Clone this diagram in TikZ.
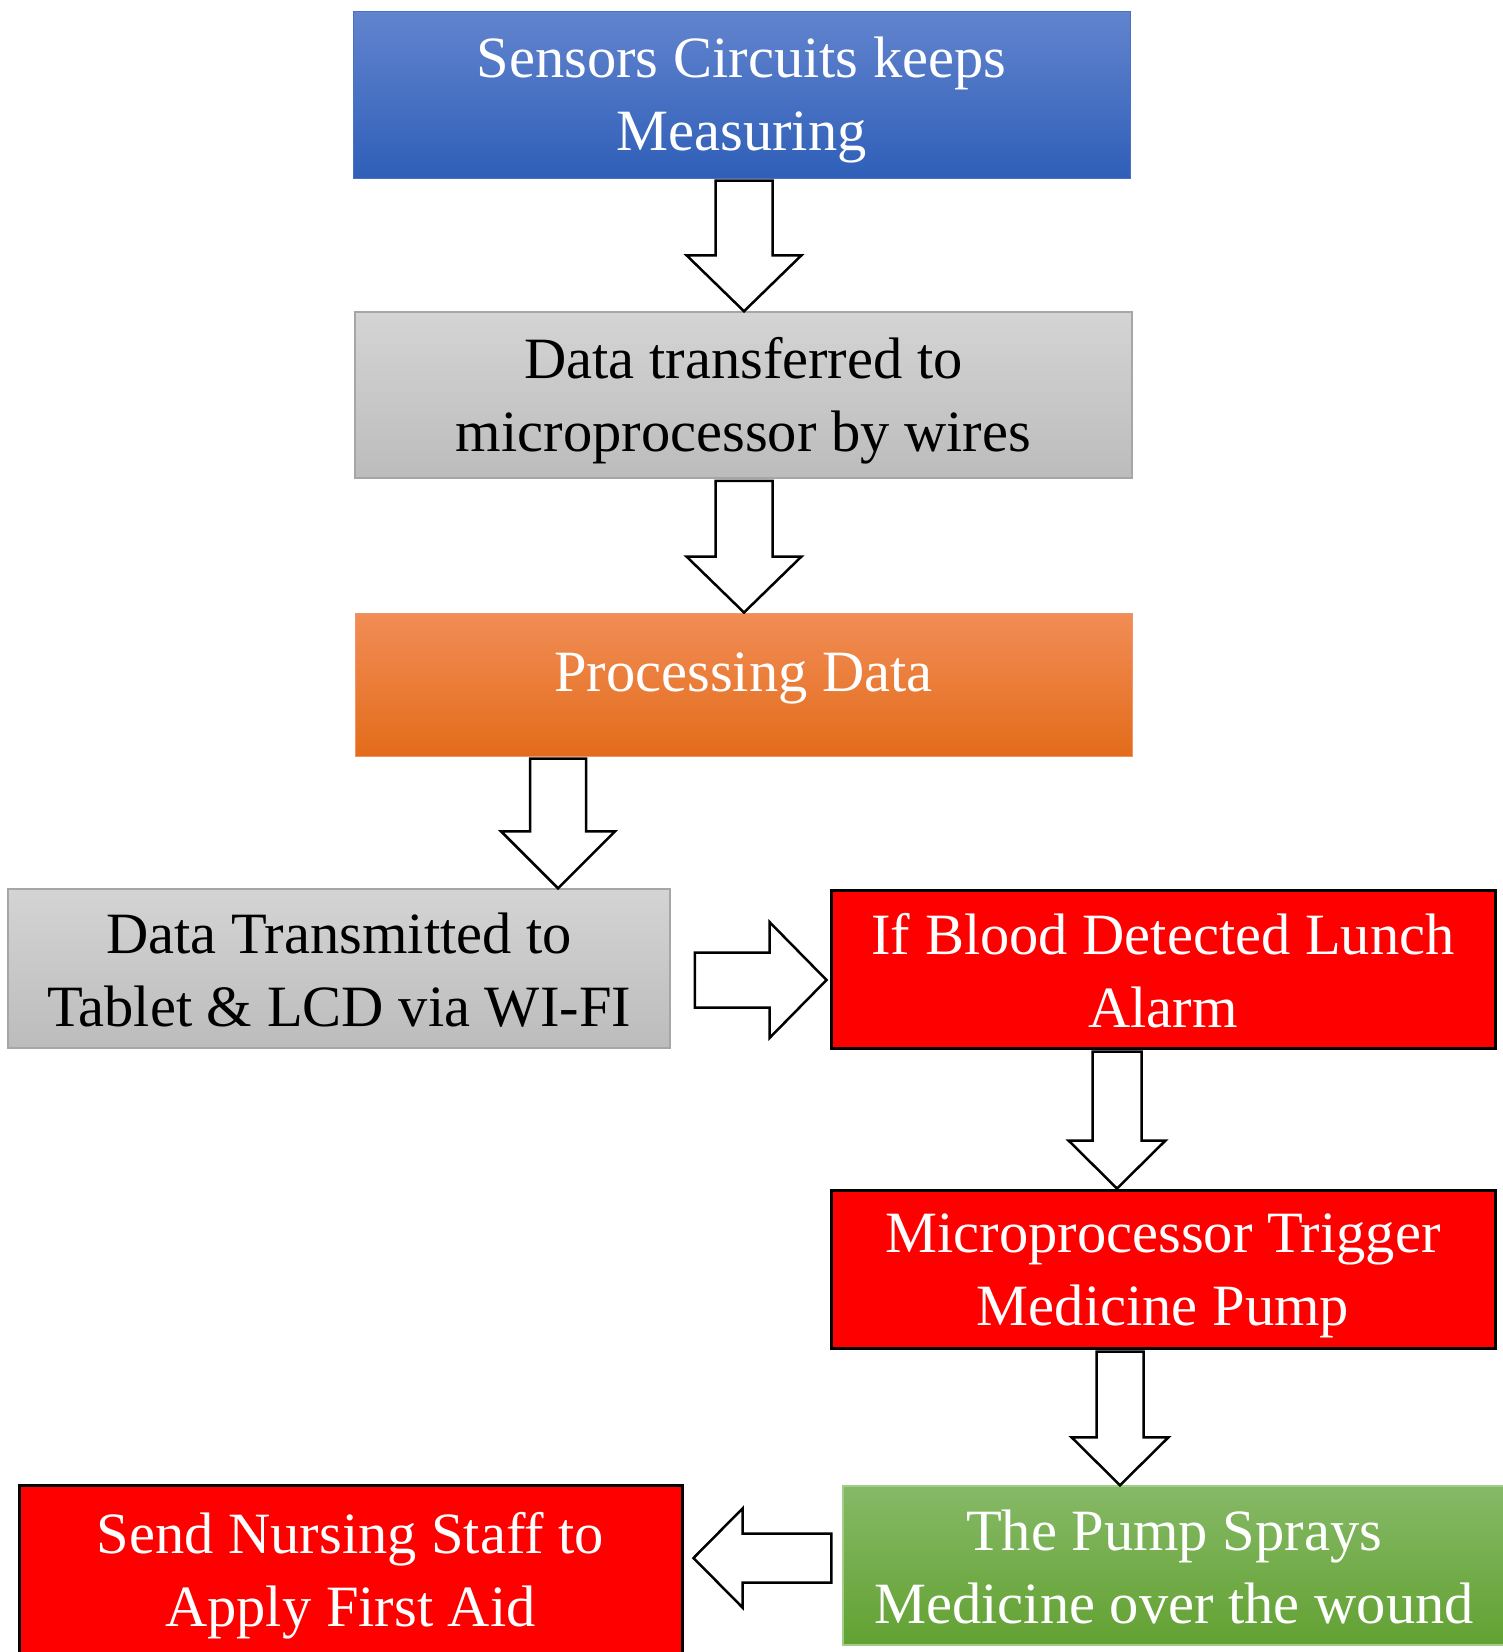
\documentclass[tikz,border=0pt]{standalone}
\usepackage{fontspec}
\setmainfont{Liberation Serif}
\usetikzlibrary{calc}

\definecolor{bluetop}{RGB}{98,132,206}
\definecolor{bluebot}{RGB}{47,95,184}
\definecolor{blueedge}{RGB}{72,112,196}
\definecolor{graytop}{RGB}{212,212,212}
\definecolor{graybot}{RGB}{188,188,188}
\definecolor{grayedge}{RGB}{166,166,166}
\definecolor{orangetop}{RGB}{241,141,86}
\definecolor{orangemid}{RGB}{241,128,44}
\definecolor{orangebot}{RGB}{227,108,26}
\definecolor{orangeedge}{RGB}{240,150,100}
\definecolor{greentop}{RGB}{134,185,102}
\definecolor{greenbot}{RGB}{98,161,50}
\definecolor{greenedge}{RGB}{160,205,135}
\definecolor{alarmred}{RGB}{255,0,0}

% two centred lines with fixed first-line height and last-line depth
\newcommand\twolines[3][9pt]{\rule{0pt}{52pt}#2\\#3\rule[-#1]{0pt}{#1}}

% vertical block arrow: source node, target node, x centre, half shaft, half head, head length
\newcommand\arrowdown[6]{%
  \draw[blockarr] let \p1=(#1.south), \p2=(#2.north), \p3=(#3,0) in
    (\x3-#4pt,\y1-2pt) -- (\x3+#4pt,\y1-2pt) -- (\x3+#4pt,\y2+#6pt)
    -- (\x3+#5pt,\y2+#6pt) -- (\x3,\y2) -- (\x3-#5pt,\y2+#6pt)
    -- (\x3-#4pt,\y2+#6pt) -- cycle;}

% horizontal block arrow: start anchor, tip anchor, y centre, half shaft, half head, head length (signed)
\newcommand\arrowside[6]{%
  \draw[blockarr] let \p1=(#1), \p2=(#2), \p3=(0,#3) in
    (\x1,\y3+#4pt) -- (\x2-#6pt,\y3+#4pt) -- (\x2-#6pt,\y3+#5pt)
    -- (\x2,\y3) -- (\x2-#6pt,\y3-#5pt) -- (\x2-#6pt,\y3-#4pt)
    -- (\x1,\y3-#4pt) -- cycle;}

\begin{document}
\begin{tikzpicture}[x=1pt,y=-1pt,
  box/.style 2 args={rectangle, minimum width=#1pt, minimum height=#2pt,
    inner sep=0pt, align=center, font=\fontsize{58.5}{73}\selectfont},
  bluebox/.style={draw=blueedge, line width=1pt, top color=bluetop,
    bottom color=bluebot, text=white},
  graybox/.style={draw=grayedge, line width=1.5pt, top color=graytop,
    bottom color=graybot, text=black},
  orangebox/.style={draw=orangeedge, line width=1pt, top color=orangetop,
    middle color=orangemid, bottom color=orangebot, text=white},
  redbox/.style={draw=black, line width=3pt, fill=alarmred, text=white},
  greenbox/.style={draw=greenedge, line width=1.5pt, top color=greentop,
    bottom color=greenbot, text=white},
  blockarr/.style={draw=black, line width=2.5pt, fill=white, line join=miter}]

\clip (0,0) rectangle (1503,1652);
\fill[white] (0,0) rectangle (1503,1652);

\node[box={777}{167}, bluebox] (b1) at (741.5,94.5)
  {\twolines{Sensors Circuits keeps}{Measuring}};
\node[box={777}{166}, graybox] (b2) at (743.5,395)
  {\twolines{Data transferred to}{microprocessor by wires}};
\node[box={777}{143}, orangebox, text height=30pt, text depth=16pt] (b3) at (743.5,684.5)
  {Processing Data};
\node[box={662}{159}, graybox] (b4) at (339,968.5)
  {\twolines{Data Transmitted to}{Tablet \& LCD via WI-FI}};
\node[box={664}{158}, redbox] (b5) at (1163,969)
  {\twolines{If Blood Detected Lunch}{Alarm}};
\node[box={664}{158}, redbox] (b6) at (1163,1269)
  {\twolines{Microprocessor Trigger}{Medicine Pump}};
\node[box={662}{159}, greenbox] (b7) at (1174,1565.5)
  {\twolines{The Pump Sprays}{Medicine over the wound}};
\node[box={663}{178}, redbox] (b8) at (350.5,1574.5)
  {\twolines[21pt]{Send Nursing Staff to}{Apply First Aid}};

\arrowdown{b1}{b2}{744}{28.5}{57.5}{56}
\arrowdown{b2}{b3}{744}{28.5}{57.5}{56}
\arrowdown{b3}{b4}{558}{28}{57}{57}
\arrowdown{b5}{b6}{1117}{24.5}{48.5}{48}
\arrowdown{b6}{b7}{1120}{23.5}{48.5}{48}

\coordinate (r1) at ($(b4.east)+(24,0)$);
\coordinate (r2) at ($(b5.west)+(-3,0)$);
\arrowside{r1}{r2}{980}{27.5}{58}{57}

\coordinate (l1) at ($(b7.west)+(-11,0)$);
\coordinate (l2) at ($(b8.east)+(10,0)$);
\arrowside{l1}{l2}{1558}{24.5}{49.5}{-49}

\end{tikzpicture}
\end{document}
